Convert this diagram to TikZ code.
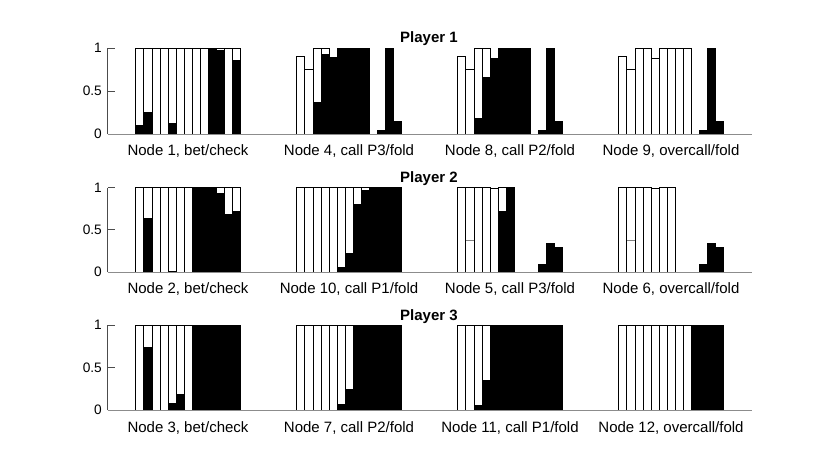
\documentclass[tikz,border=0pt]{standalone}
\usepackage{fontspec}
\setmainfont{Liberation Sans}

\tikzset{
  bbar/.style={fill=black,draw=black,line width=0.6pt},
  wbar/.style={fill=white,draw=black,line width=0.6pt},
  xaxis/.style={draw=black!45,line width=0.8pt},
  yaxis/.style={draw=black!70,line width=0.8pt},
  ticklab/.style={anchor=east,inner sep=0pt,font=\fontsize{13.7}{16}\selectfont},
  xlab/.style={anchor=base,inner sep=0pt,font=\fontsize{15}{18}\selectfont},
  ttl/.style={anchor=base,inner sep=0pt,font=\fontsize{15}{18}\selectfont\bfseries},
}

% #1 left edge of first bar, #2 zero line, #3 height of 1, #4 black/total pairs
\newcommand{\barplot}[4]{%
  \foreach \bk/\tot [count=\i] in {#4} {
    \pgfmathsetmacro{\xl}{#1+(\i-1)*8.05}
    \pgfmathsetmacro{\xr}{\xl+8.05}
    \pgfmathsetmacro{\yb}{#2-\bk*#3}
    \pgfmathsetmacro{\yt}{#2-\tot*#3}
    \ifdim\tot pt>\bk pt \draw[wbar] (\xl,\yb) rectangle (\xr,\yt); \fi
    \ifdim\bk pt>0pt \draw[bbar] (\xl,#2) rectangle (\xr,\yb); \fi
  }%
}

\begin{document}
\begin{tikzpicture}[x=1pt,y=-1pt]
\useasboundingbox (0,0) rectangle (830,463);

% Player 1
\barplot{135.7}{134}{86}{.105/1,.248/1,0/1,0/1,.12/1,0/1,0/1,0/1,0/1,1/1,.97/1,0/1,.853/1}
\barplot{296.7}{134}{86}{0/.9,0/.756,.364/1,.93/1,.888/.888,1/1,1/1,1/1,1/1,0/0,.04/.04,1/1,.147/.147}
\barplot{457.7}{134}{86}{0/.9,0/.756,.186/1,.655/1,.88/.88,1/1,1/1,1/1,1/1,0/0,.04/.04,1/1,.147/.147}
\barplot{618.7}{134}{86}{0/.9,0/.756,0/1,0/1,0/.88,0/1,0/1,0/1,0/1,0/0,.04/.04,1/1,.147/.147}

% Player 2
\barplot{135.7}{272}{84.5}{0/1,.637/1,0/1,0/1,.012/1,0/1,0/1,1/1,1/1,1/1,.93/1,.68/1,.717/1}
\barplot{296.7}{272}{84.5}{0/1,0/1,0/1,0/1,0/1,.05/1,.223/1,.8/1,.97/1,1/1,1/1,1/1,1/1}
\barplot{457.7}{272}{84.5}{0/1,0/1,0/1,0/1,0/.99,.717/1,1/1,0/0,0/0,0/0,.088/.088,.335/.335,.295/.295}
\barplot{618.7}{272}{84.5}{0/1,0/1,0/1,0/1,0/.99,0/1,0/1,0/0,0/0,0/0,.088/.088,.335/.335,.295/.295}
\draw[wbar,draw=black!50] (465.75,272) rectangle (473.8,240.7);
\draw[wbar,draw=black!50] (626.75,272) rectangle (634.8,240.7);
\draw[black,line width=0.6pt] (465.75,272) -- (465.75,187.5) (473.8,272) -- (473.8,187.5);
\draw[black,line width=0.6pt] (626.75,272) -- (626.75,187.5) (634.8,272) -- (634.8,187.5);

% Player 3
\barplot{135.7}{410}{85}{0/1,.734/1,0/1,0/1,.078/1,.184/1,0/1,1/1,1/1,1/1,1/1,1/1,1/1}
\barplot{296.7}{410}{85}{0/1,0/1,0/1,0/1,0/1,.066/1,.246/1,1/1,1/1,1/1,1/1,1/1,1/1}
\barplot{457.7}{410}{85}{0/1,0/1,.05/1,.344/1,1/1,1/1,1/1,1/1,1/1,1/1,1/1,1/1,1/1}
\barplot{618.7}{410}{85}{0/1,0/1,0/1,0/1,0/1,0/1,0/1,0/1,0/1,1/1,1/1,1/1,1/1}

% axes
\foreach \y/\h in {134/86,272/84.5,410/85} {
  \foreach \c in {0,1,2,3}
    \draw[xaxis] (107.5+161*\c,\y) -- (268.5+161*\c,\y);
  \draw[yaxis] (107.5,\y) -- (107.5,\y-\h);
  \draw[yaxis] (107.5,\y-\h) -- (115,\y-\h);
  \draw[yaxis] (107.5,\y-\h/2) -- (115,\y-\h/2);
  \node[ticklab] at (102,\y) {0};
  \node[ticklab] at (102,\y-\h/2) {0.5};
  \node[ticklab] at (102,\y-\h) {1};
}

% titles
\node[ttl] (t1) at (429,42) {Player 1};
\node[ttl] (t2) at (429,182) {Player 2};
\node[ttl] (t3) at (429,320) {Player 3};

% labels
\node[xlab] (n1) at (188,155) {Node 1, bet/check};
\node[xlab] (n4) at (349,155) {Node 4, call P3/fold};
\node[xlab] (n8) at (510,155) {Node 8, call P2/fold};
\node[xlab] (n9) at (671,155) {Node 9, overcall/fold};
\node[xlab] (n2) at (188,293) {Node 2, bet/check};
\node[xlab] (n10) at (349,293) {Node 10, call P1/fold};
\node[xlab] (n5) at (510,293) {Node 5, call P3/fold};
\node[xlab] (n6) at (671,293) {Node 6, overcall/fold};
\node[xlab] (n3) at (188,432) {Node 3, bet/check};
\node[xlab] (n7) at (349,432) {Node 7, call P2/fold};
\node[xlab] (n11) at (510,432) {Node 11, call P1/fold};
\node[xlab] (n12) at (671,432) {Node 12, overcall/fold};

\end{tikzpicture}
\end{document}
